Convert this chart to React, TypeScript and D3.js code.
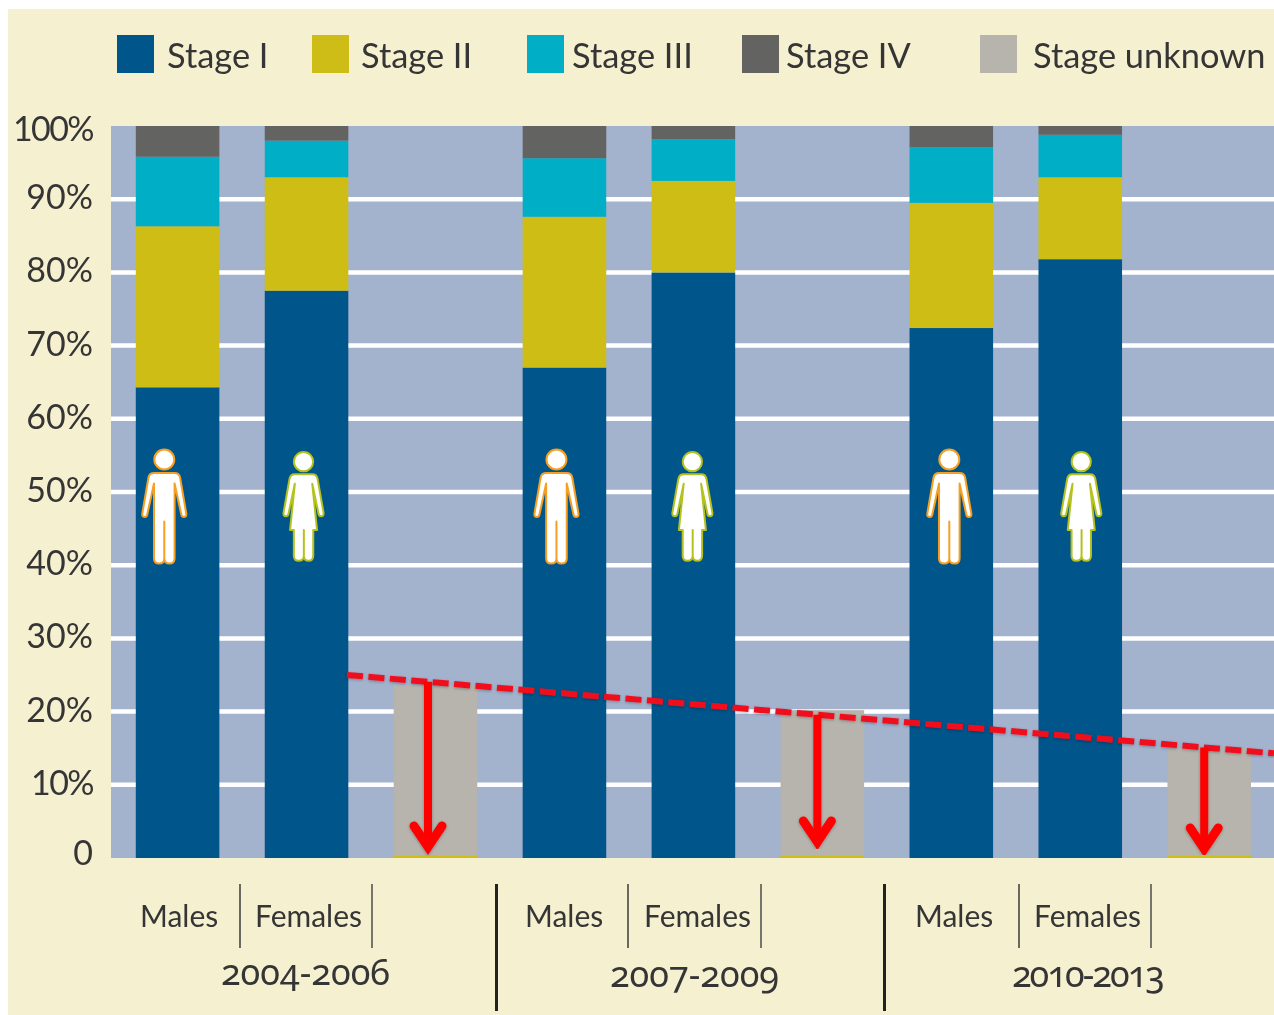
import React from "react";
import * as d3 from "d3";

const bars = ["M1", "F1", "U1", "M2", "F2", "U2", "M3", "F3", "U3"];
const stageNames = ["Stage I", "Stage II", "Stage III", "Stage IV", "Stage unknown"];
const stageColors = ["#00558b", "#cdbd14", "#00aec6", "#636362", "#b6b4ac"];
const stageI = [64.3, 77.5, 0, 67, 80, 0, 72.4, 81.8, 0];
const stageII = [22, 15.5, 0.3, 20.6, 12.5, 0.3, 17.1, 11.2, 0.3];
const stageIII = [9.5, 5, 0, 8, 5.7, 0, 7.6, 5.8, 0];
const stageIV = [4.2, 2, 0, 4.4, 1.8, 0, 2.9, 1.2, 0];
const stageUnknown = [0, 0, 23.3, 0, 0, 19.9, 0, 0, 14.7];
const tickValues = [0, 10, 20, 30, 40, 50, 60, 70, 80, 90, 100];
const tickLabels = ["0", "10%", "20%", "30%", "40%", "50%", "60%", "70%", "80%", "90%", "100%"];
const periods = ["2004-2006", "2007-2009", "2010-2013"];
const trendValues = [25, 14.3];
const legendX = [117, 312, 527, 742, 980];
const legendTextX = [167, 361, 572, 786, 1033];
const personBars = ["M1", "F1", "M2", "F2", "M3", "F3"];
const personOffsets = [-13.3, -3, -8, -1, -2, 1];

const W = 1274, H = 1015;
const y = d3.scaleLinear().domain([0, 100]).range([858, 126]);
const x = d3.scaleBand().domain(bars).range([135.8, 1251]).paddingInner(0.352).paddingOuter(0);
const series = [stageI, stageII, stageIII, stageIV, stageUnknown];
const rows = bars.map((b, i) => ({ b, s0: series[0][i], s1: series[1][i], s2: series[2][i], s3: series[3][i], s4: series[4][i] }));
const stacked = d3.stack().keys(["s0", "s1", "s2", "s3", "s4"])(rows);
const trendLine = d3.line();

const FONT = "Lato, 'Open Sans', sans-serif";
const TEXT = "#363636";

const malePath = "M-10,13.5 L10,13.5 Q15,13.5 15.8,18 L22,54 Q22.5,57.5 19.5,57.5 Q17.5,57.5 17,55 L10.3,24 L10.3,99 Q10.3,104 5.2,104 Q0,104 0,99 L0,62 L0,99 Q0,104 -5.2,104 Q-10.3,104 -10.3,99 L-10.3,24 L-17,55 Q-17.5,57.5 -19.5,57.5 Q-22.5,57.5 -22,54 L-15.8,18 Q-15,13.5 -10,13.5 Z";
const femalePath = "M-9,12.6 L9,12.6 Q13,12.6 14,17 L20,51 Q20.5,54.5 17.5,54.5 Q15.5,54.5 15,52 L8.7,22 L13.5,68.3 L9.7,68.3 L9.7,94 Q9.7,99 5,99 Q0.3,99 0.3,94 L0.3,68.3 L0.3,94 Q0.3,99 -5,99 Q-9.7,99 -9.7,94 L-9.7,68.3 L-13.5,68.3 L-8.7,22 L-15,52 Q-15.5,54.5 -17.5,54.5 Q-20.5,54.5 -20,51 L-14,17 Q-13,12.6 -9,12.6 Z";

function Person({ cx, cy, female }: { cx: number; cy: number; female: boolean }) {
  const c = female ? "#b5c21d" : "#f5a023";
  return (
    <g transform={`translate(${cx},${cy})`} fill="#fff" stroke={c} strokeWidth={2} strokeLinejoin="round">
      <circle r={female ? 9.6 : 10} />
      <path d={female ? femalePath : malePath} />
    </g>
  );
}

function Arrow({ ax, top, tip }: { ax: number; top: number; tip: number }) {
  return (
    <g stroke="#fe0000" fill="none" strokeWidth={8} filter="url(#sh)">
      <path d={`M${ax},${top} L${ax},${tip - 10}`} />
      <path d={`M${ax - 14},${tip - 29} L${ax},${tip - 8} L${ax + 14},${tip - 29}`} strokeLinecap="round" strokeLinejoin="miter" strokeMiterlimit={6} strokeWidth={9} />
    </g>
  );
}

export default function App() {
  const groups = [
    { m: 140, l1: 240, f: 255, l2: 372, sep: 496.5, yx: 305.5, yb: 985, ls: 0 },
    { m: 525, l1: 628, f: 644, l2: 761, sep: 884.5, yx: 694.5, yb: 987, ls: 0 },
    { m: 915, l1: 1019, f: 1034, l2: 1151, sep: null, yx: 1087.5, yb: 987, ls: -2 },
  ];
  const unknownBars = ["U1", "U2", "U3"];
  const arrowOff = [-7.5, -5, -5];
  const arrowTip = [855, 850, 857];
  const trendX = [347, W];
  const tY = d3.scaleLinear().domain(trendX).range(trendValues.map((v) => y(v)));
  return (
    <svg width={W} height={H} viewBox={`0 0 ${W} ${H}`} style={{ position: "absolute", left: 0, top: 0, background: "#fff" }}>
      <defs>
        <filter id="sh" x="-50%" y="-5%" width="200%" height="110%">
          <feDropShadow dx="0" dy="1" stdDeviation="1.5" floodColor="#000" floodOpacity="0.3" />
        </filter>
        <filter id="soft" x="-2%" y="-10%" width="104%" height="120%">
          <feGaussianBlur stdDeviation="0.45" />
        </filter>
      </defs>
      <rect x={8} y={9} width={W - 8} height={H - 9} fill="#f5f0cf" />
      <rect x={111} y={y(100)} width={W - 111} height={y(0) - y(100)} fill="#a3b2cd" />
      {tickValues.filter((t) => t > 0 && t < 100).map((t) => (
        <line key={t} x1={111} x2={W} y1={y(t)} y2={y(t)} stroke="#fff" strokeWidth={4.5} />
      ))}
      {stacked.map((s, si) => (
        <g key={si} fill={stageColors[si]}>
          {s.map((d, i) => d[1] > d[0] && (
            <rect key={i} x={x(bars[i])} width={x.bandwidth()} y={y(d[1])} height={y(d[0]) - y(d[1])} />
          ))}
        </g>
      ))}
      {personBars.map((b, i) => {
        const female = i % 2 === 1;
        return <Person key={b} cx={x(b)! + x.bandwidth() / 2 + personOffsets[i]} cy={female ? 461.7 : 459.5} female={female} />;
      })}
      <path d={trendLine(trendX.map((tx) => [tx, tY(tx)]) as [number, number][])!} stroke="#f00f1f" fill="none" strokeWidth={6} strokeDasharray="16 5.5" filter="url(#sh)" />
      {unknownBars.map((b, i) => {
        const ax = x(b)! + x.bandwidth() / 2 + arrowOff[i];
        return <Arrow key={b} ax={ax} top={tY(ax)} tip={arrowTip[i]} />;
      })}
      <g fontFamily={FONT} fill={TEXT} filter="url(#soft)">
        {stageNames.map((n, i) => (
          <g key={n}>
            <rect x={legendX[i]} y={35} width={37} height={38} fill={stageColors[i]} />
            <text x={legendTextX[i]} y={68} fontSize={34.4}>{n}</text>
          </g>
        ))}
        {tickValues.map((t, i) => (
          <text key={t} x={93} y={y(t) + (t === 100 ? 15 : t === 0 ? 7 : 10)} textAnchor="end" fontSize={34} letterSpacing={tickLabels[i].startsWith("1") ? -1.6 : 0}>{tickLabels[i]}</text>
        ))}
        {groups.map((g, i) => (
          <g key={i}>
            <text x={g.m} y={927} fontSize={30}>Males</text>
            <text x={g.f} y={927} fontSize={30}>Females</text>
            <text x={g.yx} y={g.yb} fontSize={36} letterSpacing={g.ls} fontFamily="'Noto Sans', sans-serif" textAnchor="middle" style={{ fontFeatureSettings: "'onum'" }}>{periods[i]}</text>
            <line x1={g.l1} x2={g.l1} y1={884} y2={948} stroke="#444" strokeWidth={1.6} />
            <line x1={g.l2} x2={g.l2} y1={884} y2={948} stroke="#555" strokeWidth={1.6} />
            {g.sep && <line x1={g.sep} x2={g.sep} y1={884} y2={1011} stroke="#222" strokeWidth={3} />}
          </g>
        ))}
      </g>
    </svg>
  );
}
